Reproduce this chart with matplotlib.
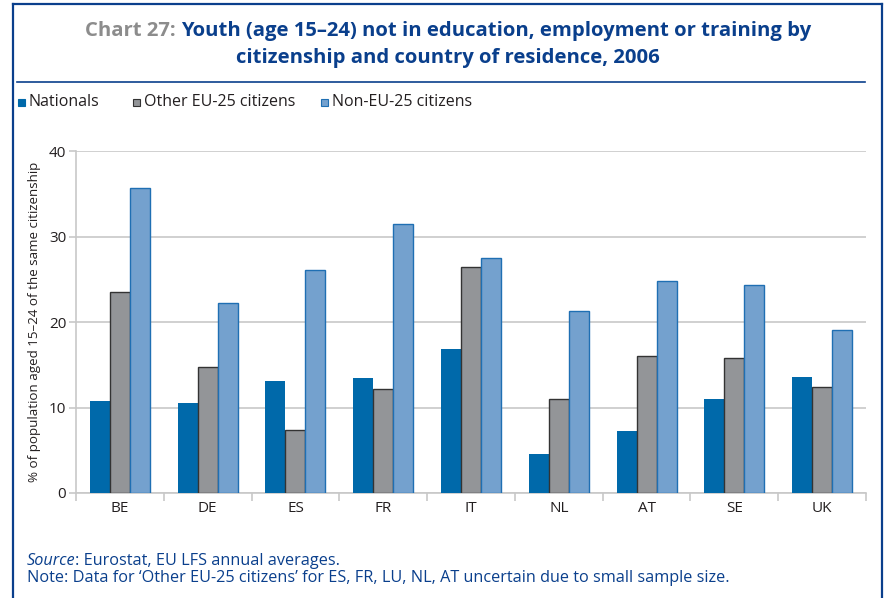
import numpy as np
import matplotlib.pyplot as plt
from matplotlib.lines import Line2D
from matplotlib.patches import Rectangle

plt.rcParams["font.family"] = ["Open Sans", "DejaVu Sans"]

countries = ["BE", "DE", "ES", "FR", "IT", "NL", "AT", "SE", "UK"]
nationals = [10.8, 10.55, 13.1, 13.4, 16.8, 4.55, 7.2, 11.0, 13.55]
other_eu25 = [23.5, 14.7, 7.4, 12.2, 26.4, 11.05, 16.0, 15.8, 12.4]
non_eu25 = [35.7, 22.2, 26.1, 31.5, 27.5, 21.3, 24.8, 24.3, 19.1]
series_names = ["Nationals", "Other EU-25 citizens", "Non-EU-25 citizens"]
y_ticks = [0, 10, 20, 30, 40]

NAVY = "#0A3F8C"
FILL = ["#0069AA", "#939598", "#74A1CE"]
EDGE = ["#0069AA", "#333333", "#1F6FB3"]
GRID = "#C8C8C8"
TEXT = "#231F20"

W, H = 887, 598
fig = plt.figure(figsize=(W / 100, H / 100), dpi=100)

# outer frame: top, left and right only
fig.add_artist(Line2D([13 / W, 13 / W], [0, 1 - 4 / H], color=NAVY, lw=1.6))
fig.add_artist(Line2D([882 / W, 882 / W], [0, 1 - 4 / H], color=NAVY, lw=1.6))
fig.add_artist(Line2D([13 / W, 882 / W], [1 - 4 / H, 1 - 4 / H], color=NAVY, lw=1.6))
fig.add_artist(Line2D([17 / W, 865 / W], [1 - 82 / H, 1 - 82 / H], color=NAVY, lw=1.2))

# title: grey lead-in, blue body, first line centred as a whole
title_kw = dict(fontsize=14.6, fontweight="bold")
t1 = fig.text(0, 1 - 31 / H, "Chart 27: ", color="#8C8C8C", va="center", ha="left", **title_kw)
t2 = fig.text(0, 1 - 31 / H, "Youth (age 15\u201324) not in education, employment or training by",
              color=NAVY, va="center", ha="left", **title_kw)
fig.canvas.draw()
w1 = t1.get_window_extent().width
w2 = t2.get_window_extent().width
x0 = 448 - (w1 + w2) / 2
t1.set_x(x0 / W)
t2.set_x((x0 + w1) / W)
fig.text(448 / W, 1 - 58 / H, "citizenship and country of residence, 2006",
         color=NAVY, va="center", ha="center", **title_kw)

ax = fig.add_axes([76 / W, 1 - 493 / H, (866 - 76) / W, (493 - 151) / H])

x = np.arange(len(countries))
width = 0.228
for i, vals in enumerate([nationals, other_eu25, non_eu25]):
    ax.bar(x + (i - 1) * width, vals, width, color=FILL[i], edgecolor=EDGE[i],
           linewidth=1.0 if i else 0.0, zorder=3, label=series_names[i])

ax.set_xlim(-0.5, len(countries) - 0.5)
ax.set_ylim(0, 40)
ax.set_yticks(y_ticks)
ax.set_yticklabels([str(t) for t in y_ticks], fontsize=11, color=TEXT)
ax.yaxis.grid(True, color=GRID, lw=1.2, zorder=0)
ax.set_xticks(x)
ax.set_xticklabels(countries, fontsize=11, color=TEXT)
ax.set_xticks(np.arange(len(countries) + 1) - 0.5, minor=True)
ax.tick_params(axis="x", which="major", length=0, pad=6)
ax.tick_params(axis="x", which="minor", length=6, color=GRID, width=1.2)
ax.tick_params(axis="y", length=5, color=GRID, width=1.2, pad=2)
for side in ["top", "right"]:
    ax.spines[side].set_visible(False)
ax.spines["left"].set_color(GRID)
ax.spines["bottom"].set_color(GRID)
ax.spines["left"].set_linewidth(1.2)
ax.spines["bottom"].set_linewidth(1.2)
ax.set_ylabel("% of population aged 15\u201324 of the same citizenship", fontsize=9.6,
              color=TEXT, labelpad=6)

# legend built by hand to keep the uneven spacing
leg_x = [18, 133, 321]
for xi, name, fc, ec in zip(leg_x, series_names, FILL, EDGE):
    fig.add_artist(Rectangle((xi / W, 1 - 106 / H), 7 / W, 7 / H, facecolor=fc,
                             edgecolor=ec, lw=0.8, transform=fig.transFigure))
    fig.text((xi + 11) / W, 1 - 102.5 / H, name, fontsize=11.5, color=TEXT,
             va="center", ha="left")

foot_kw = dict(fontsize=11.7, color=NAVY, va="center", ha="left")
s = fig.text(27 / W, 1 - 561 / H, "Source", style="italic", **foot_kw)
fig.canvas.draw()
sb = s.get_window_extent()
fig.text((sb.x1 - 1) / W, 1 - 561 / H, ": Eurostat, EU LFS annual averages.", **foot_kw)
fig.text(27 / W, 1 - 578 / H,
         "Note: Data for \u2018Other EU-25 citizens\u2019 for ES, FR, LU, NL, AT uncertain due to small sample size.",
         **foot_kw)

fig.savefig("out.png", dpi=100)
